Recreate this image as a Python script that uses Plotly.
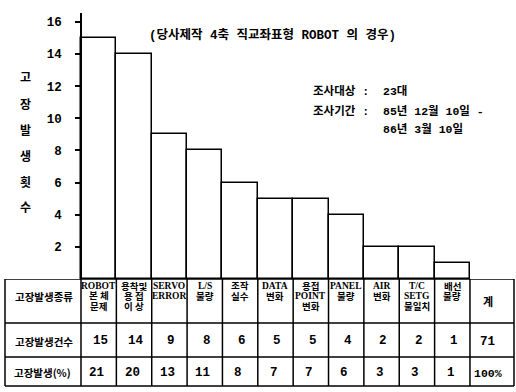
import plotly.graph_objects as go

# ---------------- data ----------------
categories = ["ROBOT<br>본 체<br>문제", "용착및<br>용 접<br>이 상", "SERVO<br>ERROR", "L/S<br>불량",
              "조작<br>실수", "DATA<br>변화", "용접<br>POINT<br>변화", "PANEL<br>불량", "AIR<br>변화",
              "T/C<br>SETG<br>불일치", "배선<br>불량"]
counts = [15, 14, 9, 8, 6, 5, 5, 4, 2, 2, 1]
percents = [21, 20, 13, 11, 8, 7, 7, 6, 3, 3, 1]
total_header = "계"
total_count = "71"
total_percent = "100%"
row_labels = ["고장발생종류", "고장발생건수", "고장발생(%)"]
y_tick_values = [2, 4, 6, 8, 10, 12, 14, 16]
y_title = "고장발생횟수"
chart_title = "(당사제작 4축 직교좌표형 ROBOT 의 경우)"
survey_keys = ["조사대상 :", "조사기간 :", ""]
survey_values = ["23대", "85년 12월 10일 -", "86년 3월 10일"]

# ---------------- geometry ----------------
W, H = 516, 392
KFONT = "Noto Sans CJK KR"
MONO = "Liberation Mono, Noto Sans CJK KR"
SERIF = "Liberation Serif, Noto Sans CJK KR"

n = len(categories)
axis_px = 81.0
col_px = 35.36
def xdata(px):
    return -0.5 + (px - axis_px) / col_px

x_lo, x_hi = xdata(0), xdata(W)
base_px = 279.0
top_px = 13.0
px_per_y = 16.07
y_top = (base_px - top_px) / px_per_y
split = (H - base_px) / H

def ty(px):  # table-axis units
    return px - base_px

row_edges = [ty(279), ty(323), ty(357), ty(386)]
tbl_left, tbl_right = xdata(5), xdata(514)

fig = go.Figure()
fig.add_trace(go.Bar(x=list(range(n)), y=counts, width=1,
                     marker=dict(color="white", line=dict(color="black", width=1.5)),
                     xaxis="x", yaxis="y", hoverinfo="skip", showlegend=False))

shapes = []
for r in row_edges:
    shapes.append(dict(type="line", xref="x", yref="y3", x0=tbl_left, x1=tbl_right, y0=r, y1=r,
                       line=dict(color="black", width=1.5)))
v_edges = [tbl_left] + [i - 0.5 for i in range(n + 1)] + [tbl_right]
for v in v_edges:
    shapes.append(dict(type="line", xref="x", yref="y3", x0=v, x1=v, y0=row_edges[0], y1=row_edges[-1],
                       line=dict(color="black", width=1.5)))

ann = []
def add(text, x, y, xref="x", yref="y3", size=11, family=KFONT, xanchor="center", yanchor="middle"):
    ann.append(dict(text=text, x=x, y=y, xref=xref, yref=yref, showarrow=False,
                    xanchor=xanchor, yanchor=yanchor,
                    font=dict(family=family, size=size, color="black", weight="bold")))

# header cells
for i, cat in enumerate(categories):
    for j, line in enumerate(cat.split("<br>")):
        add(line, i, ty(286 + j * 10), size=9.5, family=SERIF)
add(total_header, n, ty(301), size=11)

# row labels
label_x = (tbl_left - 0.5) / 2 + 0.03
add(row_labels[0], label_x, ty(296), size=10.5)
add(row_labels[1], label_x, ty(341), size=10.5)
add(row_labels[2], label_x - 0.05, ty(372), size=10.5)

# values
for i, (c, p) in enumerate(zip(counts, percents)):
    add(str(c), i + 0.05, ty(341), size=12.5, family=MONO)
    add(str(p), i - 0.05, ty(373), size=12.5, family=MONO)
add(total_count, n, ty(342), size=12.5, family=MONO)
add(total_percent, n, ty(373), size=11.5, family=MONO)

# y title (vertical, one glyph per line)
for k, ch in enumerate(y_title):
    add(ch, 25 / W, 1 - (77 + k * 26) / H, xref="paper", yref="paper", size=12)

# chart title
add(chart_title, 272 / W, 1 - 35 / H, xref="paper", yref="paper", size=12.5, family=MONO)

# survey info
for k, (key, val) in enumerate(zip(survey_keys, survey_values)):
    yy = 1 - [91, 111, 129][k] / H
    if key:
        add(key, 311 / W, yy, xref="paper", yref="paper", size=11.5, family=MONO, xanchor="left")
    add(val, 381 / W, yy, xref="paper", yref="paper", size=11.5, family=MONO, xanchor="left")

fig.update_layout(
    template="none",
    width=W, height=H,
    margin=dict(l=0, r=0, t=0, b=0),
    paper_bgcolor="white", plot_bgcolor="white",
    showlegend=False,
    bargap=0,
    xaxis=dict(range=[x_lo, x_hi], visible=False, domain=[0, 1], fixedrange=True),
    yaxis=dict(domain=[split, 1 - top_px / H], range=[0, y_top], anchor="free", position=axis_px / W,
               showline=True, linecolor="black", linewidth=1.5,
               ticks="outside", ticklen=5, tickwidth=1.5, tickcolor="black",
               tickvals=y_tick_values, ticklabelstandoff=11,
               tickfont=dict(family=MONO, size=12.5, color="black", weight="bold"),
               showgrid=False, zeroline=False, fixedrange=True),
    yaxis2=dict(overlaying="y", range=[0, y_top], anchor="free", position=axis_px / W,
                showline=False, ticks="inside", ticklen=5, tickwidth=1.5, tickcolor="black",
                tickvals=y_tick_values, showticklabels=False, showgrid=False, zeroline=False,
                fixedrange=True),
    yaxis3=dict(domain=[0, split], range=[H - base_px, 0], anchor="x", visible=False, fixedrange=True),
    shapes=shapes,
    annotations=ann,
)

fig.write_html("out.html", config={"displayModeBar": False},
               post_script="document.body.style.margin='0';document.body.style.overflow='hidden';")
